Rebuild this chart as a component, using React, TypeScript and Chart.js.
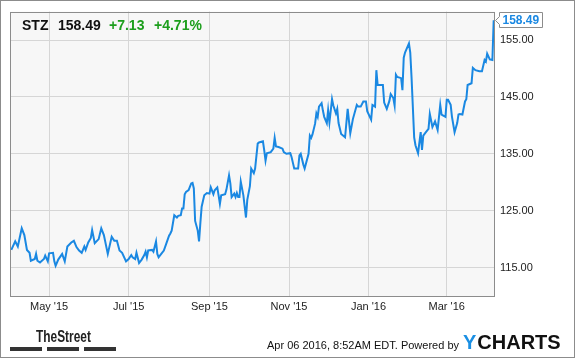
import React, { useEffect, useRef } from "react";
import { Chart, registerables } from "chart.js";

Chart.register(...registerables);

// Trading days, counted as days since 2015-04-01
const dayIndex = [
  1, 4, 6, 9, 11, 13, 15, 16, 19, 20, 21, 23, 26, 27, 29, 30, 33, 34, 35, 37,
  40, 42, 44, 47, 49, 51, 53, 55, 57, 58, 60, 62, 63, 65, 68, 70, 72, 75, 78, 80,
  82, 84, 86, 89, 91, 93, 94, 96, 97, 99, 101, 103, 104, 105, 106, 109, 110, 112, 113, 114,
  116, 118, 120, 122, 123, 124, 126, 128, 129, 131, 132, 133, 134, 135, 137, 139, 140, 141, 142, 144,
  145, 146, 147, 149, 151, 153, 154, 156, 157, 159, 160, 161, 162, 165, 166, 168, 169, 170, 172, 173,
  174, 175, 176, 177, 179, 180, 181, 182, 184, 185, 187, 188, 190, 191, 194, 195, 196, 197, 200, 202,
  203, 204, 206, 209, 210, 212, 215, 216, 217, 218, 221, 222, 223, 225, 226, 229, 230, 231, 232, 234,
  235, 236, 237, 239, 240, 241, 243, 244, 245, 247, 248, 250, 251, 252, 254, 257, 259, 261, 263, 266,
  267, 269, 271, 273, 274, 276, 277, 278, 280, 281, 282, 285, 286, 287, 289, 291, 292, 294, 295, 296,
  297, 300, 301, 302, 303, 306, 307, 308, 310, 311, 313, 315, 316, 317, 319, 321, 322, 324, 326, 328,
  330, 331, 334, 335, 336, 338, 339, 341, 343, 344, 345, 347, 349, 350, 351, 354, 355, 357, 360, 362,
  364, 365, 366, 368, 370, 371,
];

// STZ closing price (USD)
const closePrice = [
  118.1, 119.6, 118.7, 121.9, 120.7, 118.1, 117.6, 116.2, 116.5, 117.4, 116.2, 115.9, 116.5, 117.1, 116.1, 117.5, 117.6, 116.1, 115.3, 116.4,
  117.4, 116.1, 118.7, 119.4, 119.7, 118.6, 118.0, 117.6, 118.7, 118.1, 119.4, 120.2, 121.6, 119.3, 120.0, 121.9, 120.7, 117.4, 120.4, 119.7,
  119.7, 118.0, 117.6, 116.1, 116.5, 117.2, 116.8, 116.5, 117.6, 115.8, 116.4, 117.2, 117.8, 116.8, 118.0, 118.1, 117.8, 119.6, 117.4, 116.8,
  117.4, 118.0, 119.3, 120.6, 121.0, 121.5, 124.2, 123.8, 124.1, 124.2, 125.4, 125.4, 127.9, 128.3, 128.6, 129.8, 129.9, 128.9, 123.2, 121.5,
  119.6, 122.8, 125.7, 127.7, 128.1, 128.0, 129.1, 127.9, 128.6, 129.1, 127.7, 126.2, 127.7, 127.9, 128.7, 131.2, 129.8, 127.4, 128.0, 127.4,
  128.1, 127.4, 127.4, 130.1, 127.7, 125.7, 123.8, 126.9, 129.3, 132.4, 131.6, 132.4, 136.8, 137.0, 137.2, 135.6, 133.8, 135.1, 135.3, 135.9,
  137.8, 136.3, 136.2, 135.9, 135.3, 135.0, 135.1, 134.4, 133.4, 132.4, 132.4, 134.7, 135.0, 133.1, 132.4, 135.0, 138.2, 137.8, 138.4, 140.3,
  142.1, 141.5, 143.3, 143.9, 142.6, 141.5, 140.4, 142.7, 140.5, 144.6, 143.5, 142.1, 142.9, 140.4, 138.5, 137.9, 142.9, 138.6, 141.1, 143.6,
  143.3, 143.3, 144.2, 144.2, 142.5, 141.5, 141.0, 143.6, 143.3, 149.7, 147.1, 147.1, 147.1, 144.0, 142.9, 144.3, 145.5, 144.8, 143.5, 148.9,
  148.5, 148.3, 146.2, 151.9, 152.8, 154.4, 152.8, 148.4, 137.9, 136.5, 135.1, 138.8, 135.7, 138.2, 138.8, 139.4, 142.0, 139.7, 140.7, 139.2,
  143.6, 141.9, 141.5, 144.5, 144.5, 143.6, 141.5, 138.8, 140.4, 141.9, 142.0, 141.9, 144.2, 144.6, 147.1, 147.4, 150.1, 149.7, 149.5, 149.5,
  151.5, 151.2, 152.6, 151.6, 151.5, 158.49,
];

const monthTickDays = [30, 91, 153, 214, 275, 335];
const monthTickLabels = ["May '15", "Jul '15", "Sep '15", "Nov '15", "Jan '16", "Mar '16"];
const priceTicks = [115, 125, 135, 145, 155];

const ticker = "STZ";
const lastPrice = "158.49";
const changeAbs = "+7.13";
const changePct = "+4.71%";
const timestampText = "Apr 06 2016, 8:52AM EDT. Powered by";

const FONT = '"Liberation Sans", Arial, sans-serif';
const LINE_BLUE = "#1a88e2";

const decorPlugin = {
  id: "decor",
  beforeDraw(chart: any) {
    const { ctx, chartArea: a, width, height } = chart;
    ctx.save();
    ctx.fillStyle = "#ffffff";
    ctx.fillRect(0, 0, width, height);
    ctx.fillStyle = "#f7f7f7";
    ctx.fillRect(a.left, a.top, a.right - a.left, a.bottom - a.top);
    ctx.restore();
  },
  afterDraw(chart: any) {
    const { ctx, chartArea: a, width, height } = chart;
    ctx.save();
    // plot border
    ctx.strokeStyle = "#8c8c8c";
    ctx.lineWidth = 1;
    ctx.strokeRect(Math.round(a.left) + 0.5, Math.round(a.top) + 0.5, Math.round(a.right - a.left) - 1, Math.round(a.bottom - a.top));
    // outer border
    ctx.strokeStyle = "#8c8c8c";
    ctx.strokeRect(0.5, 0.5, width - 1, height - 1);

    // header
    ctx.textBaseline = "alphabetic";
    ctx.textAlign = "left";
    ctx.font = `bold 14px ${FONT}`;
    ctx.fillStyle = "#111111";
    ctx.fillText(ticker, 22, 29.5);
    ctx.fillText(lastPrice, 58, 29.5);
    ctx.fillStyle = "#1c9e1c";
    ctx.fillText(changeAbs, 109, 29.5);
    ctx.fillText(changePct, 154, 29.5);

    // last value flag
    const yScale = chart.scales.y;
    const yy = Math.round(yScale.getPixelForValue(closePrice[closePrice.length - 1])) + 0.5;
    const tipX = Math.round(a.right) + 0.5;
    ctx.beginPath();
    ctx.moveTo(tipX, yy);
    ctx.lineTo(tipX + 4, yy - 4);
    ctx.lineTo(tipX + 4, yy - 8);
    ctx.lineTo(tipX + 47, yy - 8);
    ctx.lineTo(tipX + 47, yy + 7);
    ctx.lineTo(tipX + 4, yy + 7);
    ctx.lineTo(tipX + 4, yy + 4);
    ctx.closePath();
    ctx.fillStyle = "#ffffff";
    ctx.fill();
    ctx.strokeStyle = "#8c8c8c";
    ctx.stroke();
    ctx.font = `bold 12px ${FONT}`;
    ctx.fillStyle = LINE_BLUE;
    ctx.textBaseline = "middle";
    ctx.fillText(lastPrice, tipX + 7, yy);

    // footer: TheStreet logo
    ctx.textBaseline = "alphabetic";
    ctx.save();
    ctx.translate(36, 342);
    ctx.scale(0.7, 1);
    ctx.font = `bold 17px ${FONT}`;
    ctx.fillStyle = "#222222";
    ctx.fillText("TheStreet", 0, 0);
    ctx.restore();
    ctx.fillStyle = "#333333";
    ctx.fillRect(10, 347, 32, 4);
    ctx.fillRect(47, 347, 32, 4);
    ctx.fillRect(84, 347, 32, 4);

    // footer: timestamp and YCHARTS
    ctx.font = `11px ${FONT}`;
    ctx.fillStyle = "#111111";
    ctx.textAlign = "right";
    ctx.fillText(timestampText, 459, 349);
    ctx.textAlign = "left";
    ctx.font = `bold 20px ${FONT}`;
    ctx.fillStyle = "#1a8fe3";
    ctx.fillText("Y", 463, 349);
    const yW = ctx.measureText("Y").width;
    ctx.fillStyle = "#111111";
    ctx.fillText("CHARTS", 463 + yW + 1, 349);
    ctx.restore();
  },
};

export default function App() {
  const ref = useRef<HTMLCanvasElement | null>(null);
  useEffect(() => {
    document.body.style.margin = "0";
    const canvas = ref.current;
    if (!canvas) return;
    const points = dayIndex.map((d, i) => ({ x: d, y: closePrice[i] }));
    const chart = new Chart(canvas, {
      type: "line",
      data: {
        datasets: [
          {
            data: points,
            borderColor: LINE_BLUE,
            borderWidth: 2,
            pointRadius: 0,
            tension: 0,
            fill: false,
          },
        ],
      },
      options: {
        animation: false,
        responsive: false,
        maintainAspectRatio: false,
        devicePixelRatio: 1,
        layout: { padding: { left: 10, top: 10, right: 0, bottom: 0 } },
        plugins: { legend: { display: false }, tooltip: { enabled: false } },
        scales: {
          x: {
            type: "linear",
            min: 0,
            max: 372,
            grid: { color: "#d6d6d6", drawTicks: false },
            border: { display: false },
            ticks: {
              padding: 4,
              color: "#222222",
              font: { family: FONT, size: 11 },
              maxRotation: 0,
              autoSkip: false,
              callback: (v: any) => {
                const i = monthTickDays.indexOf(Number(v));
                return i >= 0 ? monthTickLabels[i] : "";
              },
            },
            afterBuildTicks: (s: any) => {
              s.ticks = monthTickDays.map((v) => ({ value: v }));
            },
            afterFit: (s: any) => {
              s.height = 62;
            },
          },
          y: {
            position: "right",
            min: 110,
            max: 160,
            grid: { color: "#d6d6d6", drawTicks: false },
            border: { display: false },
            ticks: {
              padding: 5,
              color: "#222222",
              font: { family: FONT, size: 11 },
              callback: (v: any) => Number(v).toFixed(2),
            },
            afterBuildTicks: (s: any) => {
              s.ticks = priceTicks.map((v) => ({ value: v }));
            },
            afterFit: (s: any) => {
              s.width = 80;
            },
          },
        },
      },
      plugins: [decorPlugin],
    });
    return () => chart.destroy();
  }, []);
  return (
    <div style={{ width: 575, height: 358 }}>
      <canvas ref={ref} width={575} height={358} style={{ display: "block" }} />
    </div>
  );
}
